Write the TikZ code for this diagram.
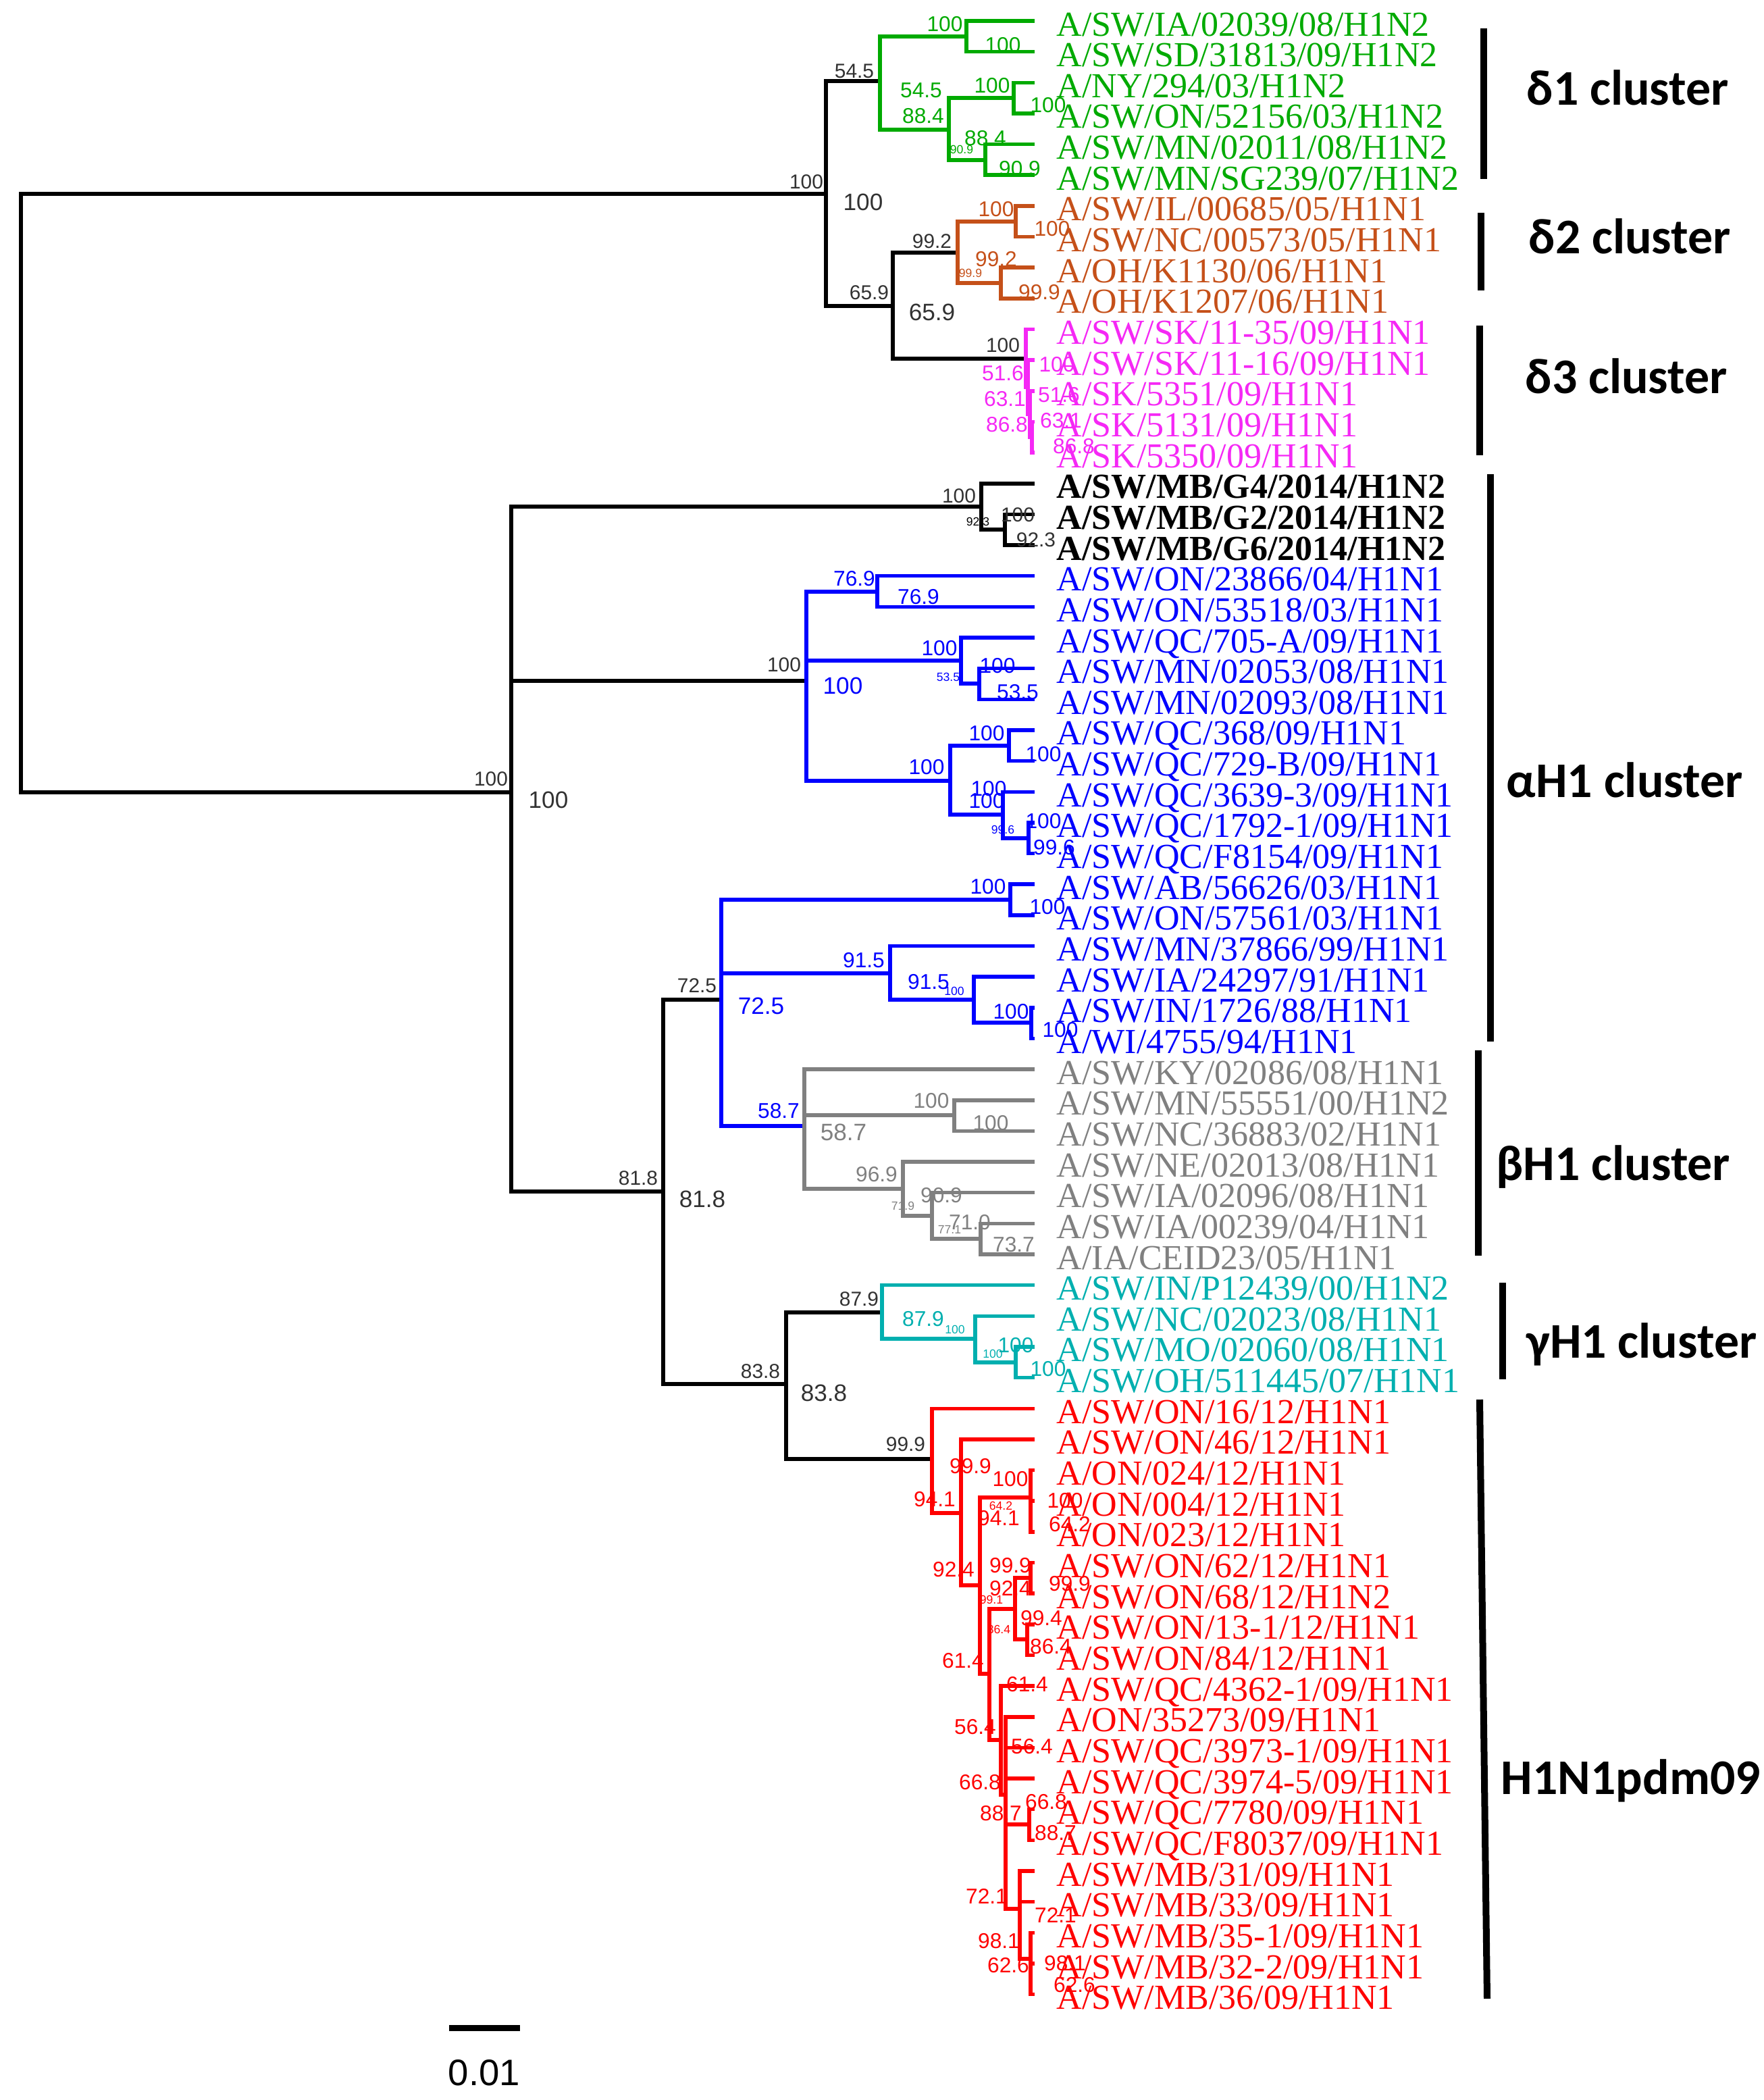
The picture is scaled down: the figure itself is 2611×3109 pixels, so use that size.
\documentclass[tikz,border=0pt]{standalone}
\usepackage{fontspec}
\setmainfont{Liberation Serif}
\newfontfamily\bsfont{Liberation Sans}
\newfontfamily\clfont{Carlito}
\usetikzlibrary{positioning}

\definecolor{grnclade}{RGB}{0,170,0}
\definecolor{orgclade}{RGB}{197,80,25}
\definecolor{pnkclade}{RGB}{245,40,245}
\definecolor{bluclade}{RGB}{0,0,255}
\definecolor{gryclade}{RGB}{128,128,128}
\definecolor{cynclade}{RGB}{0,175,175}
\definecolor{redclade}{RGB}{255,0,0}
\definecolor{bootgrey}{RGB}{50,50,50}

\begin{document}
\begin{tikzpicture}[
    x=0.01cm, y=-0.01cm,
    branch/.style={line width=0.055cm},
    leaf/.style={inner sep=0pt, font=\fontsize{14.8}{14.8}\selectfont,
                 text height=0.35cm, text depth=0.01cm},
    bold leaf/.style={leaf, font=\fontsize{14.8}{14.8}\selectfont\bfseries},
    leafof/.style={right=0.32cm of #1, yshift=-0.05cm},
    boot/.style={inner sep=0pt, font=\bsfont\fontsize{8.5}{8.5}\selectfont, text=bootgrey},
    boot big/.style={boot, font=\bsfont\fontsize{10}{10}\selectfont},
    boot col/.style={inner sep=0pt, font=\bsfont\fontsize{9}{9}\selectfont},
    boot tiny/.style={inner sep=0pt, font=\bsfont\fontsize{5}{5}\selectfont},
    bar/.style={line width=0.1cm},
    cluster/.style={anchor=base west, inner sep=0pt,
                    font=\clfont\bfseries\fontsize{21}{21}\selectfont}
]
\useasboundingbox (0,0) rectangle (2611,3109);

% leaf tips
\foreach \i in {1,...,65}
  \coordinate (t\i) at (1532, {31+45.65*(\i-1)});

% internal nodes
\coordinate (root) at (31,730);
\coordinate (dl) at (1223,287);
\coordinate (g0) at (1303,120);
\coordinate (g1) at (1431,54);
\coordinate (g2) at (1405,192);
\coordinate (g3) at (1501,145);
\coordinate (g4) at (1459,237);
\coordinate (o0) at (1322,453);
\coordinate (o1) at (1418,374);
\coordinate (o2) at (1504,328);
\coordinate (o3) at (1482,419);
\coordinate (p0) at (1519,531);
\coordinate (p1) at (1522,573);
\coordinate (p2) at (1525,613);
\coordinate (p3) at (1528,647);
\coordinate (ab) at (757,1173);
\coordinate (mb) at (1453,750);
\coordinate (mb1) at (1488,784);
\coordinate (bu) at (1194,1008);
\coordinate (bu1) at (1299,876);
\coordinate (bu2) at (1423,978);
\coordinate (bu4) at (1450,1012);
\coordinate (bu3) at (1407,1156);
\coordinate (bu5) at (1494,1104);
\coordinate (bu6) at (1485,1206);
\coordinate (bu7) at (1523,1241);
\coordinate (lo) at (982,1764);
\coordinate (b0) at (1068,1480);
\coordinate (b1) at (1496,1332);
\coordinate (b2) at (1318,1441);
\coordinate (b3) at (1442,1480);
\coordinate (b4) at (1527,1514);
\coordinate (gr0) at (1191,1667);
\coordinate (gr1) at (1413,1651);
\coordinate (gr2) at (1337,1760);
\coordinate (gr3) at (1380,1800);
\coordinate (gr4) at (1452,1834);
\coordinate (cy) at (1164,2049);
\coordinate (c0) at (1306,1943);
\coordinate (c1) at (1444,1982);
\coordinate (c2) at (1504,2017);
\coordinate (r0) at (1380,2160);
\coordinate (r1) at (1423,2240);
\coordinate (r2) at (1451,2347);
\coordinate (r3) at (1526,2217);
\coordinate (r4) at (1465,2478);
\coordinate (r5) at (1503,2382);
\coordinate (r6) at (1482,2576);
\coordinate (r7) at (1526,2336);
\coordinate (r8) at (1521,2427);
\coordinate (r9) at (1489,2657);
\coordinate (r10) at (1524,2701);
\coordinate (r11) at (1510,2826);
\coordinate (r12) at (1526,2900);

% backbone
\draw[branch] (root) |- (dl) (root) |- (ab);
\draw[branch] (dl) |- (g0) (dl) |- (o0) (o0) |- (o1) (o0) |- (p0);
\draw[branch] (ab) |- (mb) (ab) |- (bu) (ab) |- (lo)
              (mb) |- (t16) (mb) |- (mb1) (mb1) |- (t17) (mb1) |- (t18)
              (lo) |- (b0) (lo) |- (cy) (cy) |- (c0) (cy) |- (r0);

% delta clusters
\draw[branch, grnclade] (g0) |- (g1) (g0) |- (g2) (g1) |- (t1) (g1) |- (t2)
      (g2) |- (g3) (g2) |- (g4) (g3) |- (t3) (g3) |- (t4) (g4) |- (t5) (g4) |- (t6);
\draw[branch, orgclade] (o1) |- (o2) (o1) |- (o3) (o2) |- (t7) (o2) |- (t8)
      (o3) |- (t9) (o3) |- (t10);
\draw[branch, pnkclade] (p0) |- (t11) (p0) |- (p1) (p1) |- (t12) (p1) |- (p2)
      (p2) |- (t13) (p2) |- (p3) (p3) |- (t14) (p3) |- (t15);

% alpha H1
\draw[branch, bluclade] (bu) |- (bu1) (bu) |- (bu2) (bu) |- (bu3)
      (bu1) |- (t19) (bu1) |- (t20) (bu2) |- (t21) (bu2) |- (bu4)
      (bu4) |- (t22) (bu4) |- (t23) (bu3) |- (bu5) (bu3) |- (bu6)
      (bu5) |- (t24) (bu5) |- (t25) (bu6) |- (t26) (bu6) |- (bu7)
      (bu7) |- (t27) (bu7) |- (t28);
\draw[branch, bluclade] (b0) |- (b1) (b0) |- (b2) (b0) |- (gr0)
      (b1) |- (t29) (b1) |- (t30) (b2) |- (t31) (b2) |- (b3)
      (b3) |- (t32) (b3) |- (b4) (b4) |- (t33) (b4) |- (t34);

% beta H1
\draw[branch, gryclade] (gr0) |- (t35) (gr0) |- (gr1) (gr0) |- (gr2)
      (gr1) |- (t36) (gr1) |- (t37) (gr2) |- (t38) (gr2) |- (gr3)
      (gr3) |- (t39) (gr3) |- (gr4) (gr4) |- (t40) (gr4) |- (t41);

% gamma H1
\draw[branch, cynclade] (c0) |- (t42) (c0) |- (c1) (c1) |- (t43) (c1) |- (c2)
      (c2) |- (t44) (c2) |- (t45);

% H1N1pdm09
\draw[branch, redclade] (r0) |- (t46) (r0) |- (r1) (r1) |- (t47) (r1) |- (r2)
      (r2) |- (r3) (r2) |- (r4) (r3) |- (t48) (r3) |- (t49) (r3) |- (t50)
      (r4) |- (r5) (r4) |- (r6) (r5) |- (r7) (r5) |- (r8)
      (r7) |- (t51) (r7) |- (t52) (r8) |- (t53) (r8) |- (t54)
      (r6) |- (t55) (r6) |- (r9) (r9) |- (t56) (r9) |- (t57) (r9) |- (t58)
      (r9) |- (r10) (r9) |- (r11) (r10) |- (t59) (r10) |- (t60)
      (r11) |- (t61) (r11) |- (t62) (r11) |- (r12)
      (r12) |- (t63) (r12) |- (t64) (r12) |- (t65);

% leaf labels
\node[leaf, text=grnclade, leafof=t1] (l1) {A/SW/IA/02039/08/H1N2};
\node[leaf, text=grnclade, leafof=t2] (l2) {A/SW/SD/31813/09/H1N2};
\node[leaf, text=grnclade, leafof=t3] (l3) {A/NY/294/03/H1N2};
\node[leaf, text=grnclade, leafof=t4] (l4) {A/SW/ON/52156/03/H1N2};
\node[leaf, text=grnclade, leafof=t5] (l5) {A/SW/MN/02011/08/H1N2};
\node[leaf, text=grnclade, leafof=t6] (l6) {A/SW/MN/SG239/07/H1N2};
\node[leaf, text=orgclade, leafof=t7] (l7) {A/SW/IL/00685/05/H1N1};
\node[leaf, text=orgclade, leafof=t8] (l8) {A/SW/NC/00573/05/H1N1};
\node[leaf, text=orgclade, leafof=t9] (l9) {A/OH/K1130/06/H1N1};
\node[leaf, text=orgclade, leafof=t10] (l10) {A/OH/K1207/06/H1N1};
\node[leaf, text=pnkclade, leafof=t11] (l11) {A/SW/SK/11-35/09/H1N1};
\node[leaf, text=pnkclade, leafof=t12] (l12) {A/SW/SK/11-16/09/H1N1};
\node[leaf, text=pnkclade, leafof=t13] (l13) {A/SK/5351/09/H1N1};
\node[leaf, text=pnkclade, leafof=t14] (l14) {A/SK/5131/09/H1N1};
\node[leaf, text=pnkclade, leafof=t15] (l15) {A/SK/5350/09/H1N1};
\node[bold leaf, leafof=t16] (l16) {A/SW/MB/G4/2014/H1N2};
\node[bold leaf, leafof=t17] (l17) {A/SW/MB/G2/2014/H1N2};
\node[bold leaf, leafof=t18] (l18) {A/SW/MB/G6/2014/H1N2};
\node[leaf, text=bluclade, leafof=t19] (l19) {A/SW/ON/23866/04/H1N1};
\node[leaf, text=bluclade, leafof=t20] (l20) {A/SW/ON/53518/03/H1N1};
\node[leaf, text=bluclade, leafof=t21] (l21) {A/SW/QC/705-A/09/H1N1};
\node[leaf, text=bluclade, leafof=t22] (l22) {A/SW/MN/02053/08/H1N1};
\node[leaf, text=bluclade, leafof=t23] (l23) {A/SW/MN/02093/08/H1N1};
\node[leaf, text=bluclade, leafof=t24] (l24) {A/SW/QC/368/09/H1N1};
\node[leaf, text=bluclade, leafof=t25] (l25) {A/SW/QC/729-B/09/H1N1};
\node[leaf, text=bluclade, leafof=t26] (l26) {A/SW/QC/3639-3/09/H1N1};
\node[leaf, text=bluclade, leafof=t27] (l27) {A/SW/QC/1792-1/09/H1N1};
\node[leaf, text=bluclade, leafof=t28] (l28) {A/SW/QC/F8154/09/H1N1};
\node[leaf, text=bluclade, leafof=t29] (l29) {A/SW/AB/56626/03/H1N1};
\node[leaf, text=bluclade, leafof=t30] (l30) {A/SW/ON/57561/03/H1N1};
\node[leaf, text=bluclade, leafof=t31] (l31) {A/SW/MN/37866/99/H1N1};
\node[leaf, text=bluclade, leafof=t32] (l32) {A/SW/IA/24297/91/H1N1};
\node[leaf, text=bluclade, leafof=t33] (l33) {A/SW/IN/1726/88/H1N1};
\node[leaf, text=bluclade, leafof=t34] (l34) {A/WI/4755/94/H1N1};
\node[leaf, text=gryclade, leafof=t35] (l35) {A/SW/KY/02086/08/H1N1};
\node[leaf, text=gryclade, leafof=t36] (l36) {A/SW/MN/55551/00/H1N2};
\node[leaf, text=gryclade, leafof=t37] (l37) {A/SW/NC/36883/02/H1N1};
\node[leaf, text=gryclade, leafof=t38] (l38) {A/SW/NE/02013/08/H1N1};
\node[leaf, text=gryclade, leafof=t39] (l39) {A/SW/IA/02096/08/H1N1};
\node[leaf, text=gryclade, leafof=t40] (l40) {A/SW/IA/00239/04/H1N1};
\node[leaf, text=gryclade, leafof=t41] (l41) {A/IA/CEID23/05/H1N1};
\node[leaf, text=cynclade, leafof=t42] (l42) {A/SW/IN/P12439/00/H1N2};
\node[leaf, text=cynclade, leafof=t43] (l43) {A/SW/NC/02023/08/H1N1};
\node[leaf, text=cynclade, leafof=t44] (l44) {A/SW/MO/02060/08/H1N1};
\node[leaf, text=cynclade, leafof=t45] (l45) {A/SW/OH/511445/07/H1N1};
\node[leaf, text=redclade, leafof=t46] (l46) {A/SW/ON/16/12/H1N1};
\node[leaf, text=redclade, leafof=t47] (l47) {A/SW/ON/46/12/H1N1};
\node[leaf, text=redclade, leafof=t48] (l48) {A/ON/024/12/H1N1};
\node[leaf, text=redclade, leafof=t49] (l49) {A/ON/004/12/H1N1};
\node[leaf, text=redclade, leafof=t50] (l50) {A/ON/023/12/H1N1};
\node[leaf, text=redclade, leafof=t51] (l51) {A/SW/ON/62/12/H1N1};
\node[leaf, text=redclade, leafof=t52] (l52) {A/SW/ON/68/12/H1N2};
\node[leaf, text=redclade, leafof=t53] (l53) {A/SW/ON/13-1/12/H1N1};
\node[leaf, text=redclade, leafof=t54] (l54) {A/SW/ON/84/12/H1N1};
\node[leaf, text=redclade, leafof=t55] (l55) {A/SW/QC/4362-1/09/H1N1};
\node[leaf, text=redclade, leafof=t56] (l56) {A/ON/35273/09/H1N1};
\node[leaf, text=redclade, leafof=t57] (l57) {A/SW/QC/3973-1/09/H1N1};
\node[leaf, text=redclade, leafof=t58] (l58) {A/SW/QC/3974-5/09/H1N1};
\node[leaf, text=redclade, leafof=t59] (l59) {A/SW/QC/7780/09/H1N1};
\node[leaf, text=redclade, leafof=t60] (l60) {A/SW/QC/F8037/09/H1N1};
\node[leaf, text=redclade, leafof=t61] (l61) {A/SW/MB/31/09/H1N1};
\node[leaf, text=redclade, leafof=t62] (l62) {A/SW/MB/33/09/H1N1};
\node[leaf, text=redclade, leafof=t63] (l63) {A/SW/MB/35-1/09/H1N1};
\node[leaf, text=redclade, leafof=t64] (l64) {A/SW/MB/32-2/09/H1N1};
\node[leaf, text=redclade, leafof=t65] (l65) {A/SW/MB/36/09/H1N1};

% bootstrap values, backbone
\foreach \x/\y/\v [count=\k] in {1194/269/100, 1265/105/54.5, 1287/433/65.9,
    1380/357/99.2, 1485/511/100, 727/1153/100, 1420/734/100, 1161/984/100,
    945/1744/81.8, 1032/1459/72.5, 1126/2030/83.8, 1272/1923/87.9,
    1341/2138/99.9, 1507/762/100, 1534/799/92.3}
  \node[boot] (bk\k) at (\x,\y) {\v};
\node[boot tiny] (bkt) at (1448,772) {92.3};
\foreach \x/\y/\v [count=\k] in {1278/299/100, 1380/462/65.9, 812/1184/100,
    1040/1775/81.8, 1220/2062/83.8}
  \node[boot big] (bb\k) at (\x,\y) {\v};
\node[boot big, text=bluclade] (bbb1) at (1248,1015) {100};
\node[boot big, text=bluclade] (bbb2) at (1127,1489) {72.5};
\node[boot big, text=gryclade] (bbg) at (1249,1676) {58.7};

% bootstrap values, delta clusters
\foreach \x/\y/\v [count=\k] in {1399/36/100, 1485/67/100, 1364/134/54.5,
    1367/172/88.4, 1469/127/100, 1552/156/100, 1459/205/88.4, 1510/250/90.9}
  \node[boot col, text=grnclade] (bg\k) at (\x,\y) {\v};
\node[boot tiny, text=grnclade] (bgt) at (1424,221) {90.9};
\foreach \x/\y/\v [count=\k] in {1475/310/100, 1558/339/100, 1475/384/99.2,
    1539/433/99.9}
  \node[boot col, text=orgclade] (bo\k) at (\x,\y) {\v};
\node[boot tiny, text=orgclade] (bot) at (1437,404) {99.9};
\foreach \x/\y/\v [count=\k] in {1565/540/100, 1485/553/51.6, 1568/585/51.6,
    1488/591/63.1, 1571/623/63.1, 1491/629/86.8, 1590/661/86.8}
  \node[boot col, text=pnkclade] (bp\k) at (\x,\y) {\v};

% bootstrap values, alpha and beta H1
\foreach \x/\y/\v [count=\k] in {1265/857/76.9, 1360/884/76.9, 1391/960/100,
    1477/986/100, 1507/1025/53.5, 1372/1136/100, 1461/1086/100,
    1545/1117/100, 1464/1168/100, 1461/1186/100, 1545/1216/100,
    1561/1255/99.6, 1463/1313/100, 1551/1343/100, 1279/1422/91.5,
    1375/1454/91.5, 1497/1498/100, 1570/1525/100, 1153/1645/58.7}
  \node[boot col, text=bluclade] (ba\k) at (\x,\y) {\v};
\foreach \x/\y/\v [count=\k] in {1404/1002/53.5, 1485/1228/99.6, 1413/1467/100}
  \node[boot tiny, text=bluclade] (bat\k) at (\x,\y) {\v};
\foreach \x/\y/\v [count=\k] in {1379/1630/100, 1467/1663/100, 1298/1739/96.9,
    1394/1770/90.9, 1436/1810/71.0, 1501/1843/73.7}
  \node[boot col, text=gryclade] (bgr\k) at (\x,\y) {\v};
\node[boot tiny, text=gryclade] (bgrt1) at (1337,1785) {71.9};
\node[boot tiny, text=gryclade] (bgrt2) at (1406,1820) {77.1};

% bootstrap values, gamma H1 and pdm09
\foreach \x/\y/\v [count=\k] in {1367/1953/87.9, 1504/1992/100, 1552/2027/100}
  \node[boot col, text=cynclade] (bc\k) at (\x,\y) {\v};
\node[boot tiny, text=cynclade] (bct1) at (1414,1968) {100};
\node[boot tiny, text=cynclade] (bct2) at (1470,2004) {100};
\foreach \x/\y/\v [count=\k] in {1437/2171/99.9, 1384/2220/94.1, 1412/2324/92.4,
    1496/2190/100, 1479/2248/94.1, 1577/2222/100, 1584/2257/64.2,
    1426/2459/61.4, 1496/2352/92.4, 1496/2318/99.9, 1584/2345/99.9,
    1542/2396/99.4, 1556/2438/86.4, 1521/2494/61.4, 1444/2557/56.4,
    1528/2586/56.4, 1451/2639/66.8, 1549/2668/66.8, 1482/2685/88.7,
    1563/2714/88.7, 1461/2807/72.1, 1563/2835/72.1, 1479/2874/98.1,
    1577/2907/98.1, 1493/2910/62.6, 1591/2939/62.6}
  \node[boot col, text=redclade] (br\k) at (\x,\y) {\v};
\foreach \x/\y/\v [count=\k] in {1482/2229/64.2, 1468/2368/99.1, 1479/2412/86.4}
  \node[boot tiny, text=redclade] (brt\k) at (\x,\y) {\v};

% cluster bars
\coordinate (d1a) at (2197,42);   \coordinate (d1b) at (2197,265);
\coordinate (d2a) at (2193,315);  \coordinate (d2b) at (2193,430);
\coordinate (d3a) at (2191,482);  \coordinate (d3b) at (2191,674);
\coordinate (aha) at (2207,702);  \coordinate (ahb) at (2207,1542);
\coordinate (bha) at (2189,1555); \coordinate (bhb) at (2189,1859);
\coordinate (gha) at (2225,1899); \coordinate (ghb) at (2225,2042);
\coordinate (pda) at (2191,2072); \coordinate (pdb) at (2202,2959);
\draw[bar] (d1a) -- (d1b);
\draw[bar] (d2a) -- (d2b);
\draw[bar] (d3a) -- (d3b);
\draw[bar] (aha) -- (ahb);
\draw[bar] (bha) -- (bhb);
\draw[bar] (gha) -- (ghb);
\draw[bar] (pda) -- (pdb);

% cluster names
\node[cluster] (cd1) at (2260,156) {δ1 cluster};
\node[cluster] (cd2) at (2263,375) {δ2 cluster};
\node[cluster] (cd3) at (2258,582) {δ3 cluster};
\node[cluster] (cah) at (2230,1180) {αH1 cluster};
\node[cluster] (cbh) at (2215,1747) {βH1 cluster};
\node[cluster] (cgh) at (2260,2010) {γH1 cluster};
\node[cluster] (cpd) at (2222,2656) {H1N1pdm09};

% scale bar
\coordinate (sbl) at (665,3002);
\coordinate (sbr) at (770,3002);
\draw[line width=0.09cm] (sbl) -- (sbr);
\node[anchor=base, inner sep=0pt, font=\bsfont\fontsize{15.5}{15.5}\selectfont]
  (sbt) at (717,3087) {0.01};

\end{tikzpicture}
\end{document}
